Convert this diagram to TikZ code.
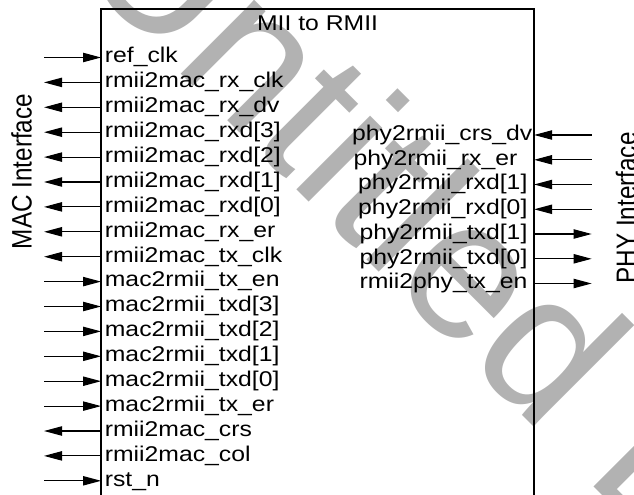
\documentclass[tikz,border=0pt]{standalone}
\usepackage{fontspec}
\setmainfont{Liberation Sans}
\usetikzlibrary{arrows.meta}
\definecolor{markgray}{rgb}{0.70,0.70,0.70}
\tikzstyle{block}=[color=black,line width=0.9pt]
\tikzstyle{signal}=[color=black,line width=0.8pt]
\tikzstyle{pinleft}=[anchor=west,inner xsep=2.5pt,inner ysep=0pt,outer sep=0pt,text height=11pt,text depth=3pt,font=\fontsize{16pt}{16pt}\selectfont]
\tikzstyle{pinright}=[pinleft,anchor=east,inner xsep=4.3pt]
\tikzstyle{blocktitle}=[anchor=base,inner sep=0pt,font=\fontsize{16pt}{16pt}\selectfont]
\tikzstyle{sidelabel}=[rotate=90,anchor=base,inner sep=0pt,font=\fontsize{18.2pt}{18.2pt}\selectfont]
\tikzstyle{watermark}=[rotate=-45,anchor=base west,inner sep=0pt,text=markgray,font=\fontsize{148pt}{148pt}\selectfont]

\begin{document}
\begin{tikzpicture}[x=0.75pt,y=-0.75pt,>={Triangle[length=13.5pt,width=7pt]}]

  \useasboundingbox (0,0) rectangle (634,495);
  \clip (0,0) rectangle (634,495);

  % WATERMARK
  \node[watermark] (mark) at (70.3,-36.7) {Untitled Diagram};

  \begin{scope}[x=0.6466pt,xscale=1.16,transform shape]

  % BLOCK
  \draw[block] (101,520) |- (534,9) -- (534,520);
  \node[blocktitle] (title) at (317.5,31) {MII to RMII};

  % MAC SIDE
  \node[sidelabel] (macif) at (31.7,171.5) {MAC Interface};
  \node[pinleft] (refclk) at (101,57.5) {ref\_clk};
  \node[pinleft] (rxclk)  at (101,82.4) {rmii2mac\_rx\_clk};
  \node[pinleft] (rxdv)   at (101,107.3) {rmii2mac\_rx\_dv};
  \node[pinleft] (rxd3)   at (101,132.2) {rmii2mac\_rxd[3]};
  \node[pinleft] (rxd2)   at (101,157.1) {rmii2mac\_rxd[2]};
  \node[pinleft] (rxd1)   at (101,182.0) {rmii2mac\_rxd[1]};
  \node[pinleft] (rxd0)   at (101,206.9) {rmii2mac\_rxd[0]};
  \node[pinleft] (rxer)   at (101,231.8) {rmii2mac\_rx\_er};
  \node[pinleft] (txclk)  at (101,256.7) {rmii2mac\_tx\_clk};
  \node[pinleft] (txen)   at (101,281.6) {mac2rmii\_tx\_en};
  \node[pinleft] (txd3)   at (101,306.5) {mac2rmii\_txd[3]};
  \node[pinleft] (txd2)   at (101,331.4) {mac2rmii\_txd[2]};
  \node[pinleft] (txd1)   at (101,356.3) {mac2rmii\_txd[1]};
  \node[pinleft] (txd0)   at (101,381.2) {mac2rmii\_txd[0]};
  \node[pinleft] (txer)   at (101,406.1) {mac2rmii\_tx\_er};
  \node[pinleft] (crs)    at (101,431.0) {rmii2mac\_crs};
  \node[pinleft] (col)    at (101,455.9) {rmii2mac\_col};
  \node[pinleft] (rstn)   at (101,480.8) {rst\_n};

  \coordinate (refclkend) at (44,57.5);
  \coordinate (rxclkend)  at (44,82.4);
  \coordinate (rxdvend)   at (44,107.3);
  \coordinate (rxd3end)   at (44,132.2);
  \coordinate (rxd2end)   at (44,157.1);
  \coordinate (rxd1end)   at (44,182.0);
  \coordinate (rxd0end)   at (44,206.9);
  \coordinate (rxerend)   at (44,231.8);
  \coordinate (txclkend)  at (44,256.7);
  \coordinate (txenend)   at (44,281.6);
  \coordinate (txd3end)   at (44,306.5);
  \coordinate (txd2end)   at (44,331.4);
  \coordinate (txd1end)   at (44,356.3);
  \coordinate (txd0end)   at (44,381.2);
  \coordinate (txerend)   at (44,406.1);
  \coordinate (crsend)    at (44,431.0);
  \coordinate (colend)    at (44,455.9);
  \coordinate (rstnend)   at (44,480.8);

  \draw[signal,->] (refclkend) -- (refclk);
  \draw[signal,->] (rxclk) -- (rxclkend);
  \draw[signal,->] (rxdv) -- (rxdvend);
  \draw[signal,->] (rxd3) -- (rxd3end);
  \draw[signal,->] (rxd2) -- (rxd2end);
  \draw[signal,->] (rxd1) -- (rxd1end);
  \draw[signal,->] (rxd0) -- (rxd0end);
  \draw[signal,->] (rxer) -- (rxerend);
  \draw[signal,->] (txclk) -- (txclkend);
  \draw[signal,->] (txenend) -- (txen);
  \draw[signal,->] (txd3end) -- (txd3);
  \draw[signal,->] (txd2end) -- (txd2);
  \draw[signal,->] (txd1end) -- (txd1);
  \draw[signal,->] (txd0end) -- (txd0);
  \draw[signal,->] (txerend) -- (txer);
  \draw[signal,->] (crs) -- (crsend);
  \draw[signal,->] (col) -- (colend);
  \draw[signal,->] (rstnend) -- (rstn);

  % PHY SIDE
  \node[sidelabel] (phyif) at (636,208) {PHY Interface};
  \node[pinright,inner xsep=1.1pt] (crsdv) at (534,135.0) {phy2rmii\_crs\_dv};
  \node[pinright,inner xsep=10.8pt] (phyrxer) at (534,159.8) {phy2rmii\_rx\_er};
  \node[pinright] (phyrxd1) at (534,184.5) {phy2rmii\_rxd[1]};
  \node[pinright] (phyrxd0) at (534,209.3) {phy2rmii\_rxd[0]};
  \node[pinright] (phytxd1) at (534,234.0) {phy2rmii\_txd[1]};
  \node[pinright] (phytxd0) at (534,258.8) {phy2rmii\_txd[0]};
  \node[pinright] (phytxen) at (534,283.5) {rmii2phy\_tx\_en};

  \coordinate (crsdvend)   at (591.5,135.0);
  \coordinate (phyrxerend) at (591.5,159.8);
  \coordinate (phyrxd1end) at (591.5,184.5);
  \coordinate (phyrxd0end) at (591.5,209.3);
  \coordinate (phytxd1end) at (591.5,234.0);
  \coordinate (phytxd0end) at (591.5,258.8);
  \coordinate (phytxenend) at (591.5,283.5);

  \draw[signal,->] (crsdvend) -- (crsdv);
  \draw[signal,->] (phyrxerend) -- (phyrxer);
  \draw[signal,->] (phyrxd1end) -- (phyrxd1);
  \draw[signal,->] (phyrxd0end) -- (phyrxd0);
  \draw[signal,->] (phytxd1) -- (phytxd1end);
  \draw[signal,->] (phytxd0) -- (phytxd0end);
  \draw[signal,->] (phytxen) -- (phytxenend);

  \end{scope}

\end{tikzpicture}
\end{document}
